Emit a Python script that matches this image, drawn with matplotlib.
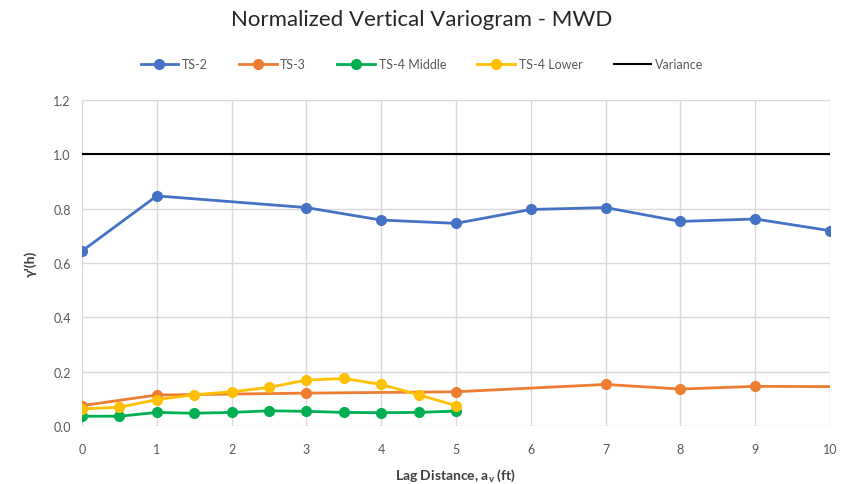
import matplotlib
matplotlib.use("Agg")
import matplotlib.pyplot as plt

# Lag distances (ft) and normalized semivariogram values
ts2_lag = [0, 1, 3, 4, 5, 6, 7, 8, 9, 10]
ts2_gamma = [0.644, 0.847, 0.804, 0.758, 0.746, 0.797, 0.804, 0.753, 0.762, 0.719]

ts3_lag = [0, 1, 3, 5, 7, 8, 9, 10]
ts3_gamma = [0.075, 0.114, 0.121, 0.126, 0.153, 0.136, 0.146, 0.145]

ts4m_lag = [0, 0.5, 1, 1.5, 2, 2.5, 3, 3.5, 4, 4.5, 5]
ts4m_gamma = [0.036, 0.036, 0.050, 0.047, 0.050, 0.056, 0.054, 0.050, 0.049, 0.050, 0.055]

ts4l_lag = [0, 0.5, 1, 1.5, 2, 2.5, 3, 3.5, 4, 4.5, 5]
ts4l_gamma = [0.063, 0.069, 0.097, 0.115, 0.126, 0.142, 0.169, 0.175, 0.153, 0.115, 0.075]

variance_lag = [0, 10]
variance_gamma = [1.0, 1.0]

x_ticks = list(range(0, 11))
y_ticks = [0.0, 0.2, 0.4, 0.6, 0.8, 1.0, 1.2]

plt.rcParams['font.family'] = ['Lato', 'DejaVu Sans']
text_grey = '#595959'

fig = plt.figure(figsize=(8.44, 4.85), dpi=100)
ax = fig.add_axes([82 / 844, 1 - 427 / 485, (830 - 82) / 844, (427 - 101) / 485])

mk = dict(marker='o', markersize=7, linewidth=2)
ax.plot(ts2_lag, ts2_gamma, color='#4472C4', label='TS-2', **mk)
ax.plot(ts3_lag, ts3_gamma, color='#ED7D31', label='TS-3',
        markevery=list(range(len(ts3_lag) - 1)), **mk)
ax.plot(ts4m_lag, ts4m_gamma, color='#00B050', label='TS-4 Middle', **mk)
ax.plot(ts4l_lag, ts4l_gamma, color='#FFC000', label='TS-4 Lower', **mk)
ax.plot(variance_lag, variance_gamma, color='black', linewidth=1.5, label='Variance')

ax.set_xlim(0, 10)
ax.set_ylim(0, 1.2)
ax.set_xticks(x_ticks)
ax.set_yticks(y_ticks)
ax.set_xticklabels([str(v) for v in x_ticks])
ax.set_yticklabels([f'{v:.1f}' for v in y_ticks])
ax.grid(True, color='#D9D9D9', linewidth=1)
ax.set_axisbelow(True)
for s in ax.spines.values():
    s.set_visible(False)
ax.tick_params(length=0, labelsize=9, colors=text_grey)
ax.tick_params(axis='x', pad=12)
ax.tick_params(axis='y', pad=8)

ax.set_xlabel('Lag Distance, a$_\\mathregular{v}$ (ft)', fontsize=10, fontweight='bold',
              color='#404040', labelpad=8)
ax.set_ylabel("γ'(h)", fontsize=10, fontweight='bold', color='#404040', labelpad=12)

fig.suptitle('Normalized Vertical Variogram - MWD', y=1 - 20 / 485, va='center',
             fontsize=16, color='#262626')

fig.legend(loc='center', bbox_to_anchor=(0.5, 1 - 65 / 485), ncol=5, frameon=False,
           fontsize=9, handlelength=3, columnspacing=2.5, handletextpad=0.3,
           labelcolor=text_grey)

fig.savefig('out.png', dpi=100)
